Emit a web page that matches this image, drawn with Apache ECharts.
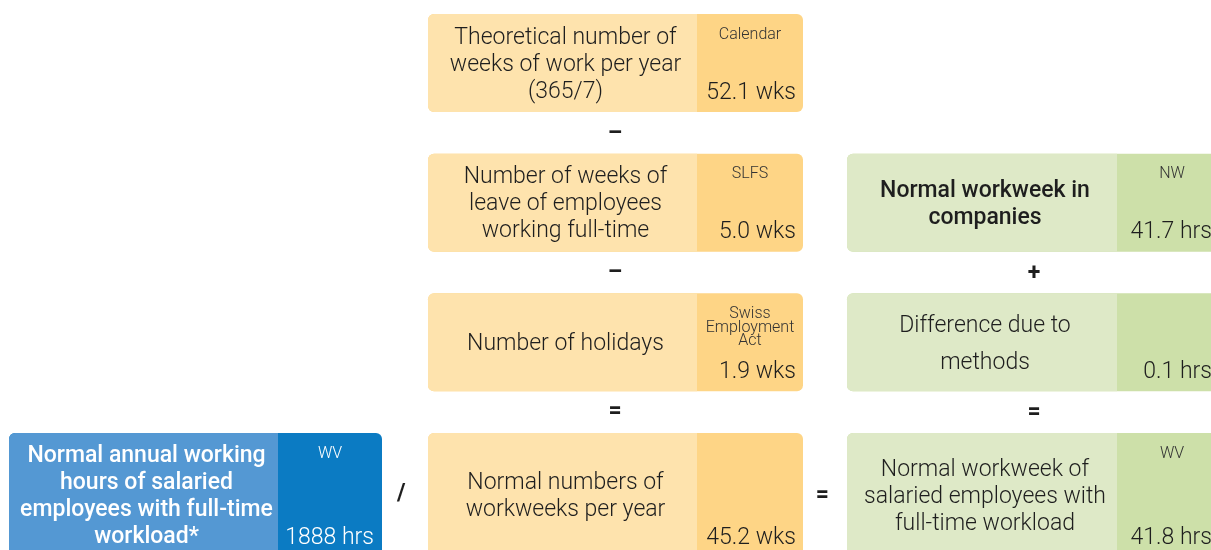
<!DOCTYPE html>
<html>
<head>
<meta charset="utf-8">
<script src="https://cdn.jsdelivr.net/npm/echarts@6/dist/echarts.min.js"></script>
<style>
html,body{margin:0;padding:0;background:#fff;}
#main{width:1211px;height:550px;}
</style>
</head>
<body>
<div id="main"></div>
<script>
// contents of the boxes
var boxLabels = [
	'Theoretical number of\nweeks of work per year\n(365/7)',
	'Number of weeks of\nleave of employees\nworking full-time',
	'Number of holidays',
	'Normal numbers of\nworkweeks per year',
	'Normal workweek in\ncompanies',
	'Difference due to\nmethods',
	'Normal workweek of\nsalaried employees with\nfull-time workload',
	'Normal annual working\nhours of salaried\nemployees with full-time\nworkload*'
];
var boxSources = ['Calendar', 'SLFS', 'Swiss\nEmployment\nAct', '', 'NW', '', 'WV', 'WV'];
var boxValues = [52.1, 5.0, 1.9, 45.2, 41.7, 0.1, 41.8, 1888];
var boxDigits = [1, 1, 1, 1, 1, 1, 1, 0];
var boxUnits = ['wks', 'wks', 'wks', 'wks', 'hrs', 'hrs', 'hrs', 'hrs'];
// column (0 = blue, 1 = orange, 2 = green) and row of every box
var boxCols = [1, 1, 1, 1, 2, 2, 2, 0];
var boxRows = [0, 1, 2, 3, 1, 2, 3, 3];

// operators between the boxes
var opSymbols = ['–', '–', '=', '+', '=', '/', '='];
var opCols = [1, 1, 1, 2, 2, 0.49, 1.495];
var opRows = [0.86, 1.855, 2.85, 1.86, 2.86, 3.44, 3.45];

// colours by column: [light, dark]
var colColors = [['#5498d3', '#0b7bc3'], ['#fee3ad', '#fed586'], ['#dee9c7', '#cde0a9']];
// box width, width of the source/value part and value padding, by column
var colBoxW = [373, 375, 380];
var colSideW = [104, 106, 110];
var colValPad = [8, 7, 15];

var BOX_H = 98, LAST_H = 124;
var FONT = 'Roboto, "Noto Sans", sans-serif';

function renderBox(params, api) {
	var i = api.value(2);
	var col = api.value(0), row = api.value(1);
	var p = api.coord([col, row]);
	var bw = colBoxW[col], sw = colSideW[col];
	var x0 = p[0] - 374 / 2, y0 = p[1];
	var h = row == 3 ? LAST_H : BOX_H;
	var cc = colColors[col];
	var blue = col == 0;
	var bold = blue || i == 4;
	var txtColor = blue ? '#fff' : '#1e1e1e';
	var lh = i == 5 ? 37 : 27;
	var children = [
		{type: 'rect', shape: {x: x0, y: y0, width: bw, height: h, r: 6}, style: {fill: cc[1]}},
		{type: 'rect', shape: {x: x0, y: y0, width: bw - sw, height: h, r: [6, 0, 0, 6]}, style: {fill: cc[0]}},
		{type: 'text', style: {
			x: x0 + (bw - sw) / 2 + 3, y: y0 + h / 2 + 2,
			text: boxLabels[i], align: 'center', verticalAlign: 'middle',
			font: (bold ? '500 ' : '300 ') + '23px ' + FONT, lineHeight: lh, fill: txtColor
		}},
		{type: 'text', style: {
			x: x0 + bw - sw / 2, y: y0 + 14,
			text: boxSources[i], align: 'center', verticalAlign: 'top',
			font: '300 16px ' + FONT, lineHeight: 13.5, fill: blue ? '#fff' : '#333'
		}},
		{type: 'text', style: {
			x: x0 + bw - colValPad[col], y: y0 + h - 19,
			text: boxValues[i].toFixed(boxDigits[i]) + ' ' + boxUnits[i],
			align: 'right', verticalAlign: 'middle',
			font: '300 23px ' + FONT, fill: txtColor
		}}
	];
	return {type: 'group', children: children};
}

function renderOp(params, api) {
	var i = api.value(2);
	var p = api.coord([api.value(0), api.value(1)]);
	return {type: 'text', style: {
		x: p[0], y: p[1], text: opSymbols[i], align: 'center', verticalAlign: 'middle',
		font: 'bold 23px ' + FONT, fill: '#1e1e1e'
	}};
}

var boxData = [];
for (var i = 0; i < boxLabels.length; i++) {
	boxData.push([boxCols[i], boxRows[i], i]);
}
var opData = [];
for (var j = 0; j < opSymbols.length; j++) {
	opData.push([opCols[j], opRows[j], j]);
}

var myChart = echarts.init(document.getElementById('main'));
var option = {
	animation: false,
	// column centres 196 / 614 / 1034, row tops 14 + 139.7*r
	grid: {left: 196, right: 177, top: 14, bottom: 117},
	xAxis: {type: 'value', min: 0, max: 2, show: false},
	yAxis: {type: 'value', min: 0, max: 3, inverse: true, show: false},
	series: [
		{type: 'custom', renderItem: renderBox, data: boxData, clip: false, silent: true},
		{type: 'custom', renderItem: renderOp, data: opData, clip: false, silent: true}
	]
};
myChart.setOption(option);
</script>
</body>
</html>
